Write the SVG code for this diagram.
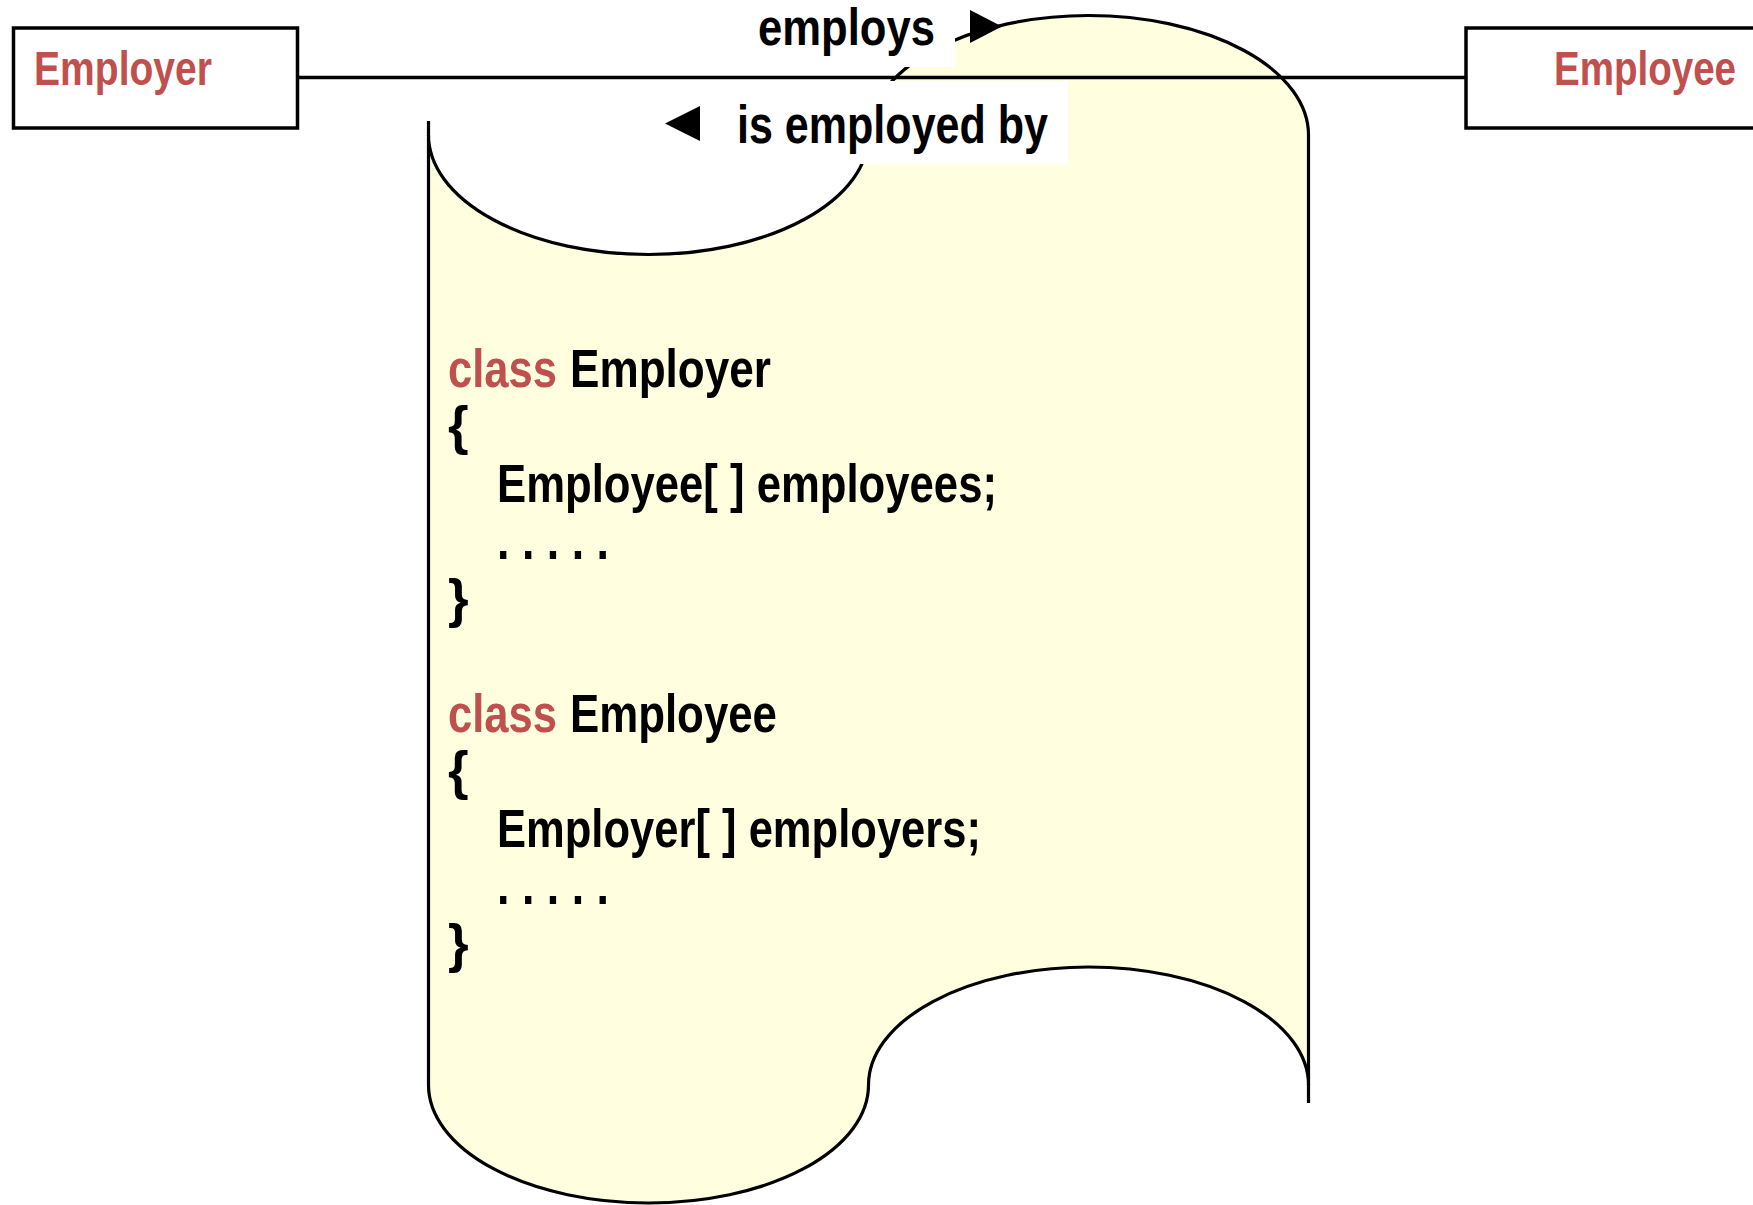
<svg xmlns="http://www.w3.org/2000/svg" width="1753" height="1205" viewBox="0 0 1753 1205">
  <style>
    .t { font-family: "Liberation Sans Narrow", "Liberation Sans", Arial, sans-serif; font-weight: bold; }
    .red { fill: #C0504D; }
    .blk { fill: #000000; }
    .box { fill: #FFFFFF; stroke: #000000; stroke-width: 3.5; }
    .edge { fill: none; stroke: #000000; stroke-width: 3.5; }
    .note { fill: #FFFFE0; stroke: #000000; stroke-width: 3.2; }
    .noteline { fill: none; stroke: #000000; stroke-width: 3.2; }
    .lbl { fill: #FFFFFF; stroke: none; }
    .code { font-size: 53px; }
  </style>

  <!-- Code note: punched-tape shaped sheet -->
  <g id="code-note">
    <path class="note" d="M428.5,135 A220,119.5 0 0 0 868.5,135 A220,119.5 0 0 1 1308.5,135 L1308.5,1085 A220,118 0 0 0 868.5,1085 A220,118 0 0 1 428.5,1085 Z"/>
    <path class="noteline" d="M428.5,121 V136 M1308.5,1084 V1103"/>
    <text class="t code red" x="448" y="387" textLength="109" lengthAdjust="spacingAndGlyphs">class</text>
    <text class="t code blk" x="570" y="387" textLength="201" lengthAdjust="spacingAndGlyphs">Employer</text>
    <text class="t code blk" x="448" y="444">{</text>
    <text class="t code blk" x="497" y="502" textLength="500" lengthAdjust="spacingAndGlyphs">Employee[ ] employees;</text>
    <text class="t code blk" x="497" y="559" textLength="112" lengthAdjust="spacingAndGlyphs">. . . . .</text>
    <text class="t code blk" x="448" y="617">}</text>
    <text class="t code red" x="448" y="732" textLength="109" lengthAdjust="spacingAndGlyphs">class</text>
    <text class="t code blk" x="570" y="732" textLength="207" lengthAdjust="spacingAndGlyphs">Employee</text>
    <text class="t code blk" x="448" y="789">{</text>
    <text class="t code blk" x="497" y="847" textLength="484" lengthAdjust="spacingAndGlyphs">Employer[ ] employers;</text>
    <text class="t code blk" x="497" y="904" textLength="112" lengthAdjust="spacingAndGlyphs">. . . . .</text>
    <text class="t code blk" x="448" y="962">}</text>
  </g>

  <!-- Association between the two classes -->
  <g id="connectors">
    <line class="edge" x1="297" y1="77.5" x2="1466" y2="77.5"/>
    <rect class="lbl" x="745" y="0" width="210" height="67"/>
    <text class="t blk" x="758" y="45" font-size="52" textLength="177" lengthAdjust="spacingAndGlyphs">employs</text>
    <polygon class="blk" points="970,10 970,43 1002,26.5"/>
    <rect class="lbl" x="655" y="81" width="413" height="83"/>
    <polygon class="blk" points="665,123.5 700,106 700,141"/>
    <text class="t blk" x="737" y="143" font-size="53" textLength="311" lengthAdjust="spacingAndGlyphs">is employed by</text>
  </g>

  <g id="node-employer">
    <rect class="box" x="13.5" y="28" width="284" height="100"/>
    <text class="t red" x="34" y="85" font-size="48" textLength="178" lengthAdjust="spacingAndGlyphs">Employer</text>
  </g>

  <g id="node-employee">
    <rect class="box" x="1466" y="28" width="300" height="100"/>
    <text class="t red" x="1554" y="85" font-size="48" textLength="182" lengthAdjust="spacingAndGlyphs">Employee</text>
  </g>
</svg>
